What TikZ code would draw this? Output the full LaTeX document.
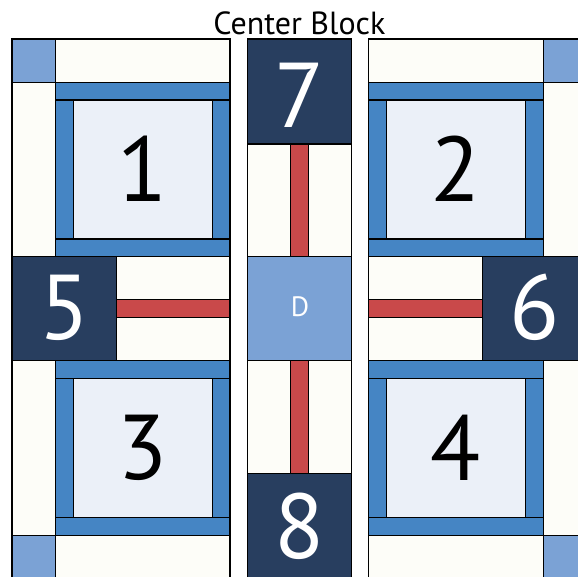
\documentclass[tikz,border=0pt]{standalone}
\usepackage{fontspec}
\setmainfont{PT Sans}
\definecolor{cream}{HTML}{FDFDF8}
\definecolor{cornerblue}{HTML}{7BA2D5}
\definecolor{bandblue}{HTML}{4585C4}
\definecolor{paleblue}{HTML}{EBF0F8}
\definecolor{navy}{HTML}{283E5F}
\definecolor{stripred}{HTML}{C9494A}
\tikzset{
  patch/.style={draw=black, line width=1.1pt},
  bignum/.style={font=\fontsize{92}{92}\selectfont, inner sep=0pt},
}

\begin{document}
\begin{tikzpicture}[x=1pt, y=1pt]
  \useasboundingbox (-299.4,-268.2) rectangle (278.6,308.8);
  \clip (-299.4,-268.2) rectangle (278.6,308.8);
  \fill[white] (-299.4,-268.2) rectangle (278.6,308.8);
  % four corner blocks, mirrored
  \foreach \sx/\sy in {1/1,-1/1,1/-1,-1/-1}{
    \begin{scope}[xscale=\sx, yscale=\sy]
      \draw[patch, fill=cornerblue] (-287.4,226.5) rectangle (-243.7,269.8);
      \draw[patch, fill=cream] (-243.7,226.5) rectangle (-69.4,269.8);
      \draw[patch, fill=cream] (-287.4,52.1) rectangle (-243.7,226.5);
      \draw[patch, fill=bandblue] (-243.7,208.8) rectangle (-69.4,226.5);
      \draw[patch, fill=bandblue] (-243.7,52.1) rectangle (-69.4,69.8);
      \draw[patch, fill=bandblue] (-243.7,69.8) rectangle (-225.7,208.8);
      \draw[patch, fill=bandblue] (-87.1,69.8) rectangle (-69.4,208.8);
      \draw[patch, fill=paleblue] (-225.7,69.8) rectangle (-87.1,208.8);
    \end{scope}
  }
  % side arms
  \foreach \sx in {1,-1}{
    \begin{scope}[xscale=\sx]
      \draw[patch, fill=navy] (-287.4,-52.1) rectangle (-182.7,52.1);
      \draw[patch, fill=cream] (-182.7,8.9) rectangle (-69.4,52.1);
      \draw[patch, fill=stripred] (-182.7,-8.9) rectangle (-69.4,8.9);
      \draw[patch, fill=cream] (-182.7,-52.1) rectangle (-69.4,-8.9);
    \end{scope}
  }
  % top and bottom arms
  \foreach \sy in {1,-1}{
    \begin{scope}[yscale=\sy]
      \draw[patch, fill=navy] (-52.3,164.8) rectangle (52.3,269.8);
      \draw[patch, fill=cream] (-52.3,52.1) rectangle (-9,164.8);
      \draw[patch, fill=stripred] (-9,52.1) rectangle (9,164.8);
      \draw[patch, fill=cream] (9,52.1) rectangle (52.3,164.8);
    \end{scope}
  }
  % center square
  \draw[patch, fill=cornerblue] (-52.3,-52.1) rectangle (52.3,52.1);
  \node[text=white, font=\fontsize{28}{28}\selectfont, inner sep=0pt] (centerD) at (0.6,2.1) {D};
  % labels
  \node[bignum] (n1) at (-156.4,140.3) {1};
  \node[bignum] (n2) at (156.4,140.3) {2};
  \node[bignum] (n3) at (-156.4,-139.3) {3};
  \node[bignum] (n4) at (156.4,-139.3) {4};
  \node[bignum, text=white] (n5) at (-235,1.3) {5};
  \node[bignum, text=white] (n6) at (235,1.3) {6};
  \node[bignum, text=white] (n7) at (0,213.8) {7};
  \node[bignum, text=white] (n8) at (0,-217.2) {8};
  \node[anchor=base, font=\fontsize{32}{32}\selectfont, inner sep=0pt] (title) at (0,273.8) {Center Block};
\end{tikzpicture}
\end{document}
